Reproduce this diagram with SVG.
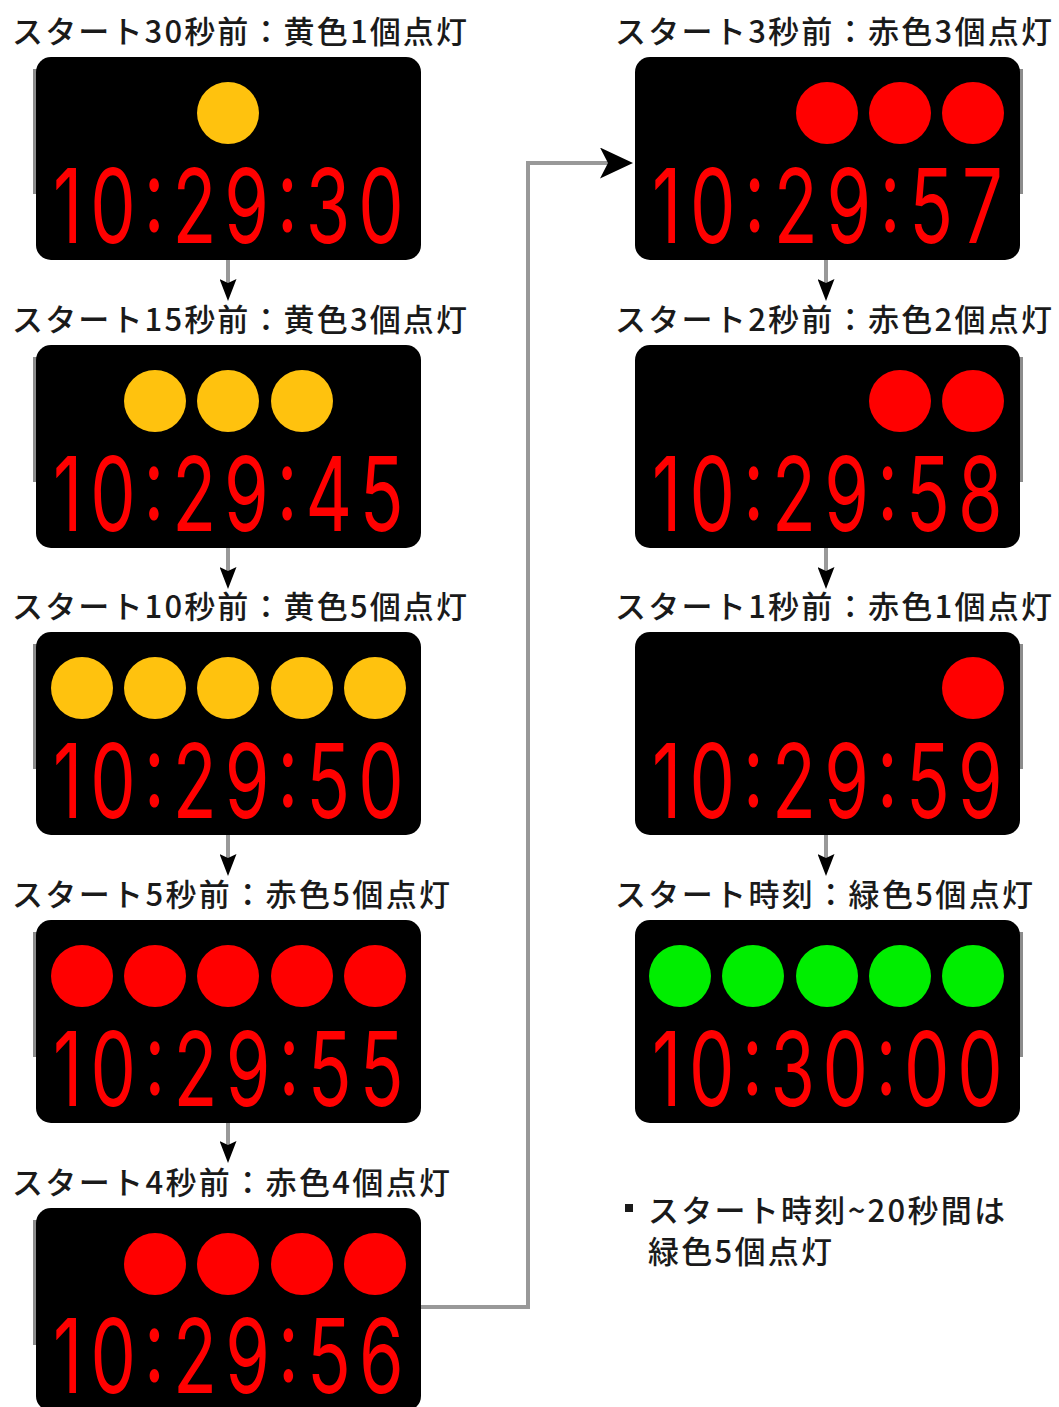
<svg xmlns="http://www.w3.org/2000/svg" width="1059" height="1407" viewBox="0 0 1059 1407">
<style>
.lbl{font-family:"Noto Sans CJK JP","Noto Sans CJK SC",sans-serif;font-size:31px;font-weight:500;fill:#1a1a1a}
.panel{fill:#000}
.shadow{fill:#8c8c8c}
.dig{font-family:Inter,Roboto,"Liberation Sans",sans-serif;font-weight:400;font-size:103px;fill:#ff0000}
.y{fill:#ffc20e}
.r{fill:#ff0000}
.g{fill:#00ee00}
.conn{fill:none;stroke:#999;stroke-width:4}
</style>
<defs>
<marker id="ah" viewBox="0 0 22 17" refX="8" refY="8.5" markerWidth="22" markerHeight="17" markerUnits="userSpaceOnUse" orient="auto">
<path d="M0,0 L22,8.5 L0,17 L4,8.5 z" fill="#000"/>
</marker>
<marker id="ahL" viewBox="0 0 33 31" refX="10" refY="15.5" markerWidth="33" markerHeight="31" markerUnits="userSpaceOnUse" orient="auto">
<path d="M0,0 L33,15.5 L0,31 L8,15.5 z" fill="#000"/>
</marker>
</defs>
<rect width="1059" height="1407" fill="#fff"/>

<g id="connectors">
<path class="conn" d="M228,260 V287" marker-end="url(#ah)"/>
<path class="conn" d="M228,548 V575" marker-end="url(#ah)"/>
<path class="conn" d="M228,835 V862" marker-end="url(#ah)"/>
<path class="conn" d="M228,1122 V1149" marker-end="url(#ah)"/>
<path class="conn" d="M826,260 V287" marker-end="url(#ah)"/>
<path class="conn" d="M826,548 V575" marker-end="url(#ah)"/>
<path class="conn" d="M826,835 V862" marker-end="url(#ah)"/>
<path class="conn" d="M421,1307 H528 V163 H610" marker-end="url(#ahL)"/>
</g>

<g id="node-30s">
<text class="lbl" x="12" y="43" textLength="455">スタート30秒前：黄色1個点灯</text>
<rect class="shadow" x="33" y="69" width="10" height="125"/>
<rect class="panel" x="36" y="57" width="385" height="203" rx="15"/>
<circle class="y" cx="228" cy="113" r="31"/>
<text class="dig" transform="translate(53,243) scale(0.7,1)" textLength="501" lengthAdjust="spacing">10:29:30</text>
</g>

<g id="node-15s">
<text class="lbl" x="12" y="331" textLength="455">スタート15秒前：黄色3個点灯</text>
<rect class="shadow" x="33" y="357" width="10" height="125"/>
<rect class="panel" x="36" y="345" width="385" height="203" rx="15"/>
<circle class="y" cx="155" cy="401" r="31"/>
<circle class="y" cx="228" cy="401" r="31"/>
<circle class="y" cx="302" cy="401" r="31"/>
<text class="dig" transform="translate(53,531) scale(0.7,1)" textLength="501" lengthAdjust="spacing">10:29:45</text>
</g>

<g id="node-10s">
<text class="lbl" x="12" y="618" textLength="455">スタート10秒前：黄色5個点灯</text>
<rect class="shadow" x="33" y="644" width="10" height="125"/>
<rect class="panel" x="36" y="632" width="385" height="203" rx="15"/>
<circle class="y" cx="82" cy="688" r="31"/>
<circle class="y" cx="155" cy="688" r="31"/>
<circle class="y" cx="228" cy="688" r="31"/>
<circle class="y" cx="302" cy="688" r="31"/>
<circle class="y" cx="375" cy="688" r="31"/>
<text class="dig" transform="translate(53,818) scale(0.7,1)" textLength="501" lengthAdjust="spacing">10:29:50</text>
</g>

<g id="node-5s">
<text class="lbl" x="12" y="906" textLength="438">スタート5秒前：赤色5個点灯</text>
<rect class="shadow" x="33" y="932" width="10" height="125"/>
<rect class="panel" x="36" y="920" width="385" height="203" rx="15"/>
<circle class="r" cx="82" cy="976" r="31"/>
<circle class="r" cx="155" cy="976" r="31"/>
<circle class="r" cx="228" cy="976" r="31"/>
<circle class="r" cx="302" cy="976" r="31"/>
<circle class="r" cx="375" cy="976" r="31"/>
<text class="dig" transform="translate(53,1106) scale(0.7,1)" textLength="501" lengthAdjust="spacing">10:29:55</text>
</g>

<g id="node-4s">
<text class="lbl" x="12" y="1194" textLength="438">スタート4秒前：赤色4個点灯</text>
<rect class="shadow" x="33" y="1220" width="10" height="125"/>
<rect class="panel" x="36" y="1208" width="385" height="203" rx="15"/>
<circle class="r" cx="155" cy="1264" r="31"/>
<circle class="r" cx="228" cy="1264" r="31"/>
<circle class="r" cx="302" cy="1264" r="31"/>
<circle class="r" cx="375" cy="1264" r="31"/>
<text class="dig" transform="translate(53,1393) scale(0.7,1)" textLength="501" lengthAdjust="spacing">10:29:56</text>
</g>

<g id="node-3s">
<text class="lbl" x="615" y="43" textLength="437">スタート3秒前：赤色3個点灯</text>
<rect class="shadow" x="1013" y="69" width="10" height="125"/>
<rect class="panel" x="635" y="57" width="385" height="203" rx="15"/>
<circle class="r" cx="827" cy="113" r="31"/>
<circle class="r" cx="900" cy="113" r="31"/>
<circle class="r" cx="973" cy="113" r="31"/>
<text class="dig" transform="translate(652,243) scale(0.7,1)" textLength="501" lengthAdjust="spacing">10:29:57</text>
</g>

<g id="node-2s">
<text class="lbl" x="615" y="331" textLength="437">スタート2秒前：赤色2個点灯</text>
<rect class="shadow" x="1013" y="357" width="10" height="125"/>
<rect class="panel" x="635" y="345" width="385" height="203" rx="15"/>
<circle class="r" cx="900" cy="401" r="31"/>
<circle class="r" cx="973" cy="401" r="31"/>
<text class="dig" transform="translate(652,531) scale(0.7,1)" textLength="501" lengthAdjust="spacing">10:29:58</text>
</g>

<g id="node-1s">
<text class="lbl" x="615" y="618" textLength="437">スタート1秒前：赤色1個点灯</text>
<rect class="shadow" x="1013" y="644" width="10" height="125"/>
<rect class="panel" x="635" y="632" width="385" height="203" rx="15"/>
<circle class="r" cx="973" cy="688" r="31"/>
<text class="dig" transform="translate(652,818) scale(0.7,1)" textLength="501" lengthAdjust="spacing">10:29:59</text>
</g>

<g id="node-start">
<text class="lbl" x="615" y="906" textLength="418">スタート時刻：緑色5個点灯</text>
<rect class="shadow" x="1013" y="932" width="10" height="125"/>
<rect class="panel" x="635" y="920" width="385" height="203" rx="15"/>
<circle class="g" cx="680" cy="976" r="31"/>
<circle class="g" cx="753" cy="976" r="31"/>
<circle class="g" cx="827" cy="976" r="31"/>
<circle class="g" cx="900" cy="976" r="31"/>
<circle class="g" cx="973" cy="976" r="31"/>
<text class="dig" transform="translate(652,1106) scale(0.7,1)" textLength="501" lengthAdjust="spacing">10:30:00</text>
</g>

<g id="note">
<rect x="625" y="1204" width="8" height="8" fill="#1a1a1a"/>
<text class="lbl" x="648" y="1222" textLength="357">スタート時刻~20秒間は</text>
<text class="lbl" x="648" y="1263" textLength="184">緑色5個点灯</text>
</g>
</svg>
